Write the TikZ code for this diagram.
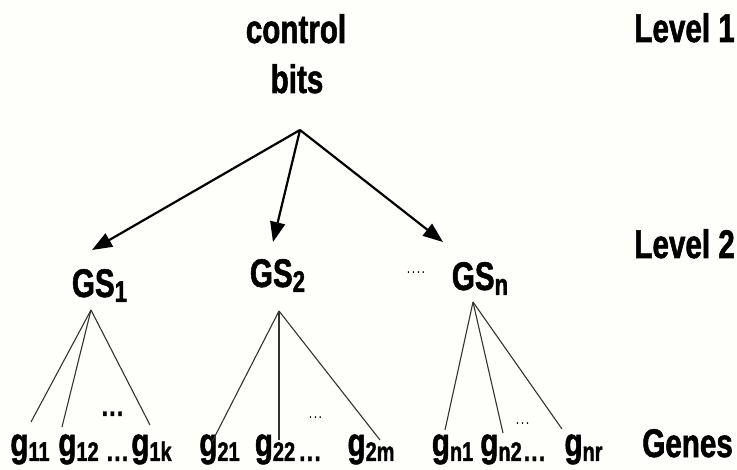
\documentclass[tikz,border=0pt]{standalone}
\usepackage{fontspec}
\setmainfont{Liberation Sans}[FakeStretch=0.74,BoldFeatures={FakeBold=1.3}]
\usetikzlibrary{arrows.meta}
\definecolor{paper}{RGB}{254,254,250}
\newcommand{\gsname}[1]{GS\raisebox{-5pt}{\fontsize{30}{36}\selectfont #1}}
\newcommand{\gname}[1]{g\raisebox{-5pt}{\fontsize{27}{32}\selectfont #1}}
\newcommand{\spread}[1]{.\kern#1.\kern#1.}

\begin{document}
\begin{tikzpicture}[x=1pt,y=-1pt,
  txt/.style={font=\fontsize{40}{48}\selectfont\bfseries,inner sep=0pt,anchor=base},
  dotsbig/.style={font=\fontsize{30}{36}\selectfont\bfseries,inner sep=0pt,anchor=base},
  dotssmall/.style={font=\fontsize{17}{20}\selectfont,inner sep=0pt,anchor=base},
  arr/.style={line width=2.2pt,-{Triangle[length=20pt,width=15pt]}},
  twig/.style={line width=1.1pt,black!80}]
\fill[paper] (0,0) rectangle (737,470);
% level 1
\node[txt] (ctl) at (296,43) {control};
\node[txt] (bits) at (297,93) {bits};
\coordinate (hub) at (300,130);
% level 2
\node[txt] (gs1) at (99.5,297) {\gsname{1}};
\node[txt] (gs2) at (277.5,287) {\gsname{2}};
\node[txt] (gsn) at (480,290) {\gsname{n}};
\node[dotssmall] (gsdots) at (416,274) {.\kern1.5pt.\kern1.5pt.\kern1.5pt.};
\coordinate (tip1) at (92,250);
\coordinate (tip2) at (273,242);
\coordinate (tipn) at (443,242);
\foreach \t in {1,2,n}
\draw[arr] (hub) -- (tip\t);
% genes
\foreach \n/\s/\x in {g11/11/30,g12/12/78.5,g1k/1k/151.5,g21/21/219.5,g22/22/275,g2m/2m/371,gn1/n1/452.5,gn2/n2/501,gnr/nr/583.5}
\node[txt] (\n) at (\x,456) {\gname{\s}};
\node[dotsbig] (row1) at (117.5,461) {\spread{1.5pt}};
\node[dotsbig] (row2) at (310,461) {\spread{1.5pt}};
\node[dotsbig] (rown) at (534.5,461) {\spread{1.5pt}};
\node[dotsbig] (mid1) at (112.5,416) {\spread{1.5pt}};
\node[dotssmall] (mid2) at (315.5,419) {\spread{1.5pt}};
\node[dotssmall] (midn) at (522.5,425) {\spread{1.5pt}};
\coordinate (foot1) at (91,310);
\coordinate (foot2) at (279,311);
\coordinate (footn) at (473,302);
\foreach \f/\e/\x/\y in {1/a/31/422,1/b/62/427,1/c/150/425,2/a/212/442,2/b/279/440,2/c/380/440,n/a/445/430,n/b/503/433,n/c/562/429}{
\coordinate (e\f\e) at (\x,\y);
\draw[twig] (foot\f) -- (e\f\e);}
% levels
\node[txt,anchor=base east] (lv1) at (735,42) {Level 1};
\node[txt,anchor=base east] (lv2) at (735,258) {Level 2};
\node[txt,anchor=base east] (lvg) at (733,457) {Genes};
\end{tikzpicture}
\end{document}
